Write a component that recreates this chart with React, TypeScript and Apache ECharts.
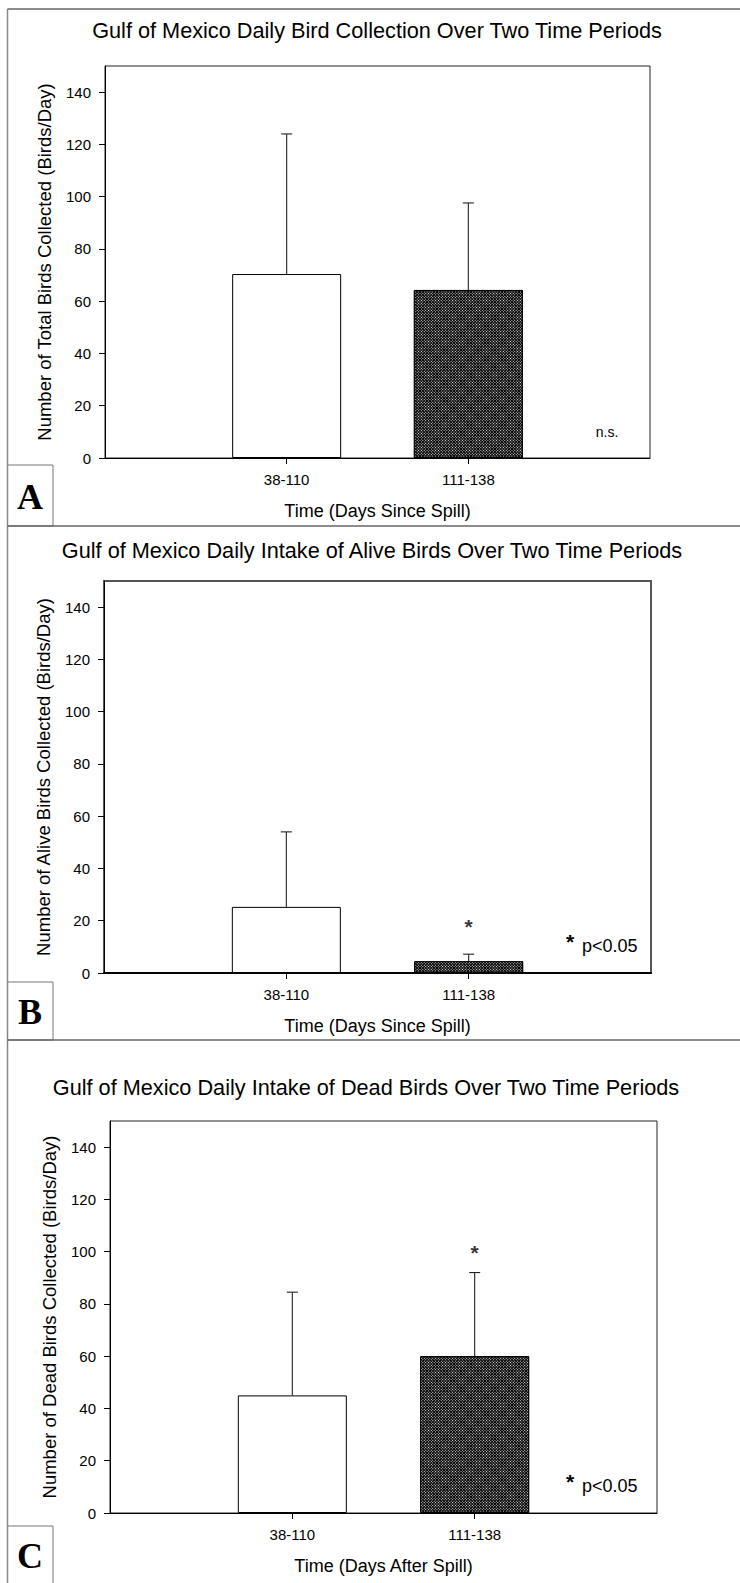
import React, { useEffect, useRef } from 'react';
import * as echarts from 'echarts';

// ---------- data ----------
const categories = ['', '38-110', '111-138', ''];
const yTicks = [0, 20, 40, 60, 80, 100, 120, 140];
const yMax = 150;

const panelTitles = [
  'Gulf of Mexico Daily Bird Collection Over Two Time Periods',
  'Gulf of Mexico Daily Intake of Alive Birds Over Two Time Periods',
  'Gulf of Mexico Daily Intake of Dead Birds Over Two Time Periods',
];
const yNames = [
  'Number of Total Birds Collected (Birds/Day)',
  'Number of Alive Birds Collected (Birds/Day)',
  'Number of Dead Birds Collected (Birds/Day)',
];
const xNames = ['Time (Days Since Spill)', 'Time (Days Since Spill)', 'Time (Days After Spill)'];
const panelLetters = ['A', 'B', 'C'];

const totalMeans = [70.4, 64.3];
const totalErrTops = [124, 97.6];
const aliveMeans = [25.3, 4.5];
const aliveErrTops = [54, 7.2];
const deadMeans = [45, 60];
const deadErrTops = [84.5, 92];

const meansByPanel = [totalMeans, aliveMeans, deadMeans];
const errTopsByPanel = [totalErrTops, aliveErrTops, deadErrTops];
// significance star above the 111-138 bar (value level); null = none
const starLevels = [null, 19.6, 101.5];
const noteTexts = ['n.s.', 'p<0.05', 'p<0.05'];

// ---------- layout ----------
const FONT = '"Liberation Sans", Arial, Helvetica, sans-serif';
const SERIF = '"Liberation Serif", "Times New Roman", serif';
const W = 740;
const H = 1583;
const layout = [
  { l: 105, r: 650, t: 66, b: 458, titleX: 377, titleY: 30, boxT: 465, boxB: 526 },
  { l: 104, r: 651, t: 581, b: 973, titleX: 372, titleY: 550, boxT: 982, boxB: 1040 },
  { l: 110, r: 657, t: 1121, b: 1513, titleX: 366, titleY: 1087, boxT: 1526, boxB: 1583 },
];
const dividers = [9, 526, 1040];

export default function App() {
  const ref = useRef<HTMLDivElement>(null);

  useEffect(() => {
    if (!ref.current) return;
    const chart = echarts.init(ref.current, null, { renderer: 'svg', width: W, height: H });

    const hatch = {
      color: '#000',
      borderColor: '#000',
      borderWidth: 1,
      decal: {
        symbol: 'rect',
        symbolSize: 0.9,
        color: '#ffffff',
        dashArrayX: [1, 1],
        dashArrayY: [1, 1],
        rotation: Math.PI / 4,
      },
    };
    const plain = { color: '#fff', borderColor: '#000', borderWidth: 1 };

    const grids: any[] = [];
    const xAxes: any[] = [];
    const yAxes: any[] = [];
    const series: any[] = [];
    const graphics: any[] = [];

    layout.forEach((p, i) => {
      grids.push({
        left: p.l,
        top: p.t,
        width: p.r - p.l,
        height: p.b - p.t,
        show: true,
        borderColor: i === 1 ? '#555' : '#222',
        borderWidth: i === 1 ? 2 : 1,
        backgroundColor: 'transparent',
        containLabel: false,
      });
      xAxes.push({
        gridIndex: i,
        type: 'category',
        data: categories,
        boundaryGap: false,
        axisLine: { show: true, lineStyle: { color: '#000', width: i === 1 ? 2 : 1 } },
        axisTick: {
          show: true,
          length: 6,
          interval: (idx: number) => idx === 1 || idx === 2,
          lineStyle: { color: '#000' },
        },
        axisLabel: { interval: 0, margin: 14, fontSize: 15, color: '#000', fontFamily: FONT },
        splitLine: { show: false },
        name: xNames[i],
        nameLocation: 'middle',
        nameGap: 44,
        nameTextStyle: { fontSize: 18, color: '#000', fontFamily: FONT },
      });
      yAxes.push({
        gridIndex: i,
        type: 'value',
        min: 0,
        max: yMax,
        axisLine: { show: true, lineStyle: { color: '#000' } },
        axisTick: { show: true, length: 6, customValues: yTicks, lineStyle: { color: '#000' } },
        axisLabel: { customValues: yTicks, margin: 14, fontSize: 15, color: '#000', fontFamily: FONT },
        splitLine: { show: false },
        name: yNames[i],
        nameLocation: 'middle',
        nameGap: 51,
        nameTextStyle: { fontSize: 18.5, color: '#000', fontFamily: FONT },
      });

      const means = meansByPanel[i];
      const tops = errTopsByPanel[i];
      series.push({
        type: 'bar',
        xAxisIndex: i,
        yAxisIndex: i,
        barWidth: 109,
        z: 2,
        data: ['-', { value: means[0], itemStyle: plain }, { value: means[1], itemStyle: hatch }, '-'],
      });
      series.push({
        type: 'custom',
        xAxisIndex: i,
        yAxisIndex: i,
        z: 3,
        encode: { x: 0, y: 1 },
        data: [
          [1, means[0], tops[0]],
          [2, means[1], tops[1]],
        ],
        renderItem: (_params: any, api: any) => {
          const x = api.value(0);
          const lo = api.coord([x, api.value(1)]);
          const hi = api.coord([x, api.value(2)]);
          const st = { stroke: '#222', lineWidth: 1.1 };
          return {
            type: 'group',
            children: [
              { type: 'line', shape: { x1: lo[0], y1: lo[1], x2: hi[0], y2: hi[1] }, style: st },
              { type: 'line', shape: { x1: hi[0] - 5.5, y1: hi[1], x2: hi[0] + 5.5, y2: hi[1] }, style: st },
            ],
          };
        },
      });
      const star = starLevels[i];
      if (star !== null) {
        series.push({
          type: 'scatter',
          xAxisIndex: i,
          yAxisIndex: i,
          symbol: 'circle',
          symbolSize: 2,
          itemStyle: { color: 'rgba(0,0,0,0)' },
          z: 4,
          data: [[2, star]],
          label: {
            show: true,
            formatter: '*',
            position: 'inside',
            fontSize: 21,
            fontWeight: 'bold',
            color: '#000',
            fontFamily: FONT,
            offset: [0, 5],
          },
        });
      }

      // panel title
      graphics.push({
        type: 'text',
        x: p.titleX,
        y: p.titleY,
        style: {
          text: panelTitles[i],
          fill: '#000',
          font: `21.7px ${FONT}`,
          textAlign: 'center',
          textVerticalAlign: 'middle',
        },
      });
      // panel letter box
      graphics.push({
        type: 'rect',
        shape: { x: 7.5, y: p.boxT, width: 45.5, height: p.boxB - p.boxT + (i === 2 ? 10 : 0) },
        style: { fill: 'rgba(0,0,0,0)', stroke: '#777', lineWidth: 1 },
      });
      graphics.push({
        type: 'text',
        x: 30,
        y: (p.boxT + Math.min(p.boxB, H)) / 2 + 1,
        style: {
          text: panelLetters[i],
          fill: '#000',
          font: `bold 36px ${SERIF}`,
          textAlign: 'center',
          textVerticalAlign: 'middle',
        },
      });
      // notes
      if (i === 0) {
        graphics.push({
          type: 'text',
          x: 607,
          y: 432,
          style: { text: noteTexts[i], fill: '#000', font: `14px ${FONT}`, textAlign: 'center', textVerticalAlign: 'middle' },
        });
      } else {
        const base = p.b;
        graphics.push({
          type: 'text',
          x: 570,
          y: base - 37 + 5,
          style: { text: '*', fill: '#000', font: `bold 21px ${FONT}`, textAlign: 'center', textVerticalAlign: 'middle' },
        });
        graphics.push({
          type: 'text',
          x: 582,
          y: base - 27,
          style: { text: noteTexts[i], fill: '#000', font: `18px ${FONT}`, textAlign: 'left', textVerticalAlign: 'middle' },
        });
      }
    });

    // outer frame lines
    graphics.push({
      type: 'line',
      shape: { x1: 7.5, y1: dividers[0], x2: 7.5, y2: H },
      style: { stroke: '#888', lineWidth: 1.5 },
    });
    dividers.forEach((y) => {
      graphics.push({
        type: 'line',
        shape: { x1: 7.5, y1: y, x2: W, y2: y },
        style: { stroke: '#666', lineWidth: 1.5 },
      });
    });

    chart.setOption({
      animation: false,
      backgroundColor: '#fff',
      textStyle: { fontFamily: FONT },
      grid: grids,
      xAxis: xAxes,
      yAxis: yAxes,
      series,
      graphic: { elements: graphics },
    });

    return () => chart.dispose();
  }, []);

  return (
    <div
      ref={ref}
      style={{ position: 'absolute', left: 0, top: 0, width: W, height: H, background: '#fff' }}
    />
  );
}
